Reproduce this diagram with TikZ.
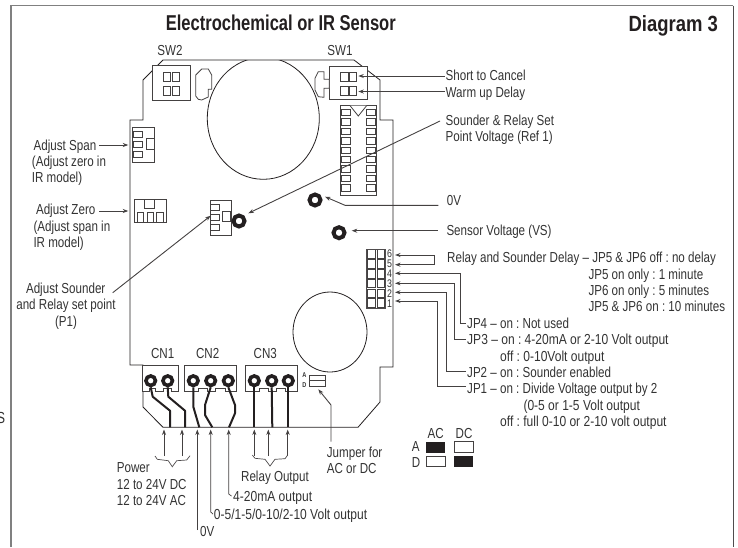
\documentclass[tikz,border=0pt]{standalone}
\usepackage{fontspec}
\setmainfont[FakeStretch=0.80]{Liberation Sans}
\newfontfamily\numfam[FakeStretch=0.83]{Liberation Sans}
\newfontfamily\titlefam[FakeStretch=0.77]{Liberation Sans}
\newfontfamily\diagfam[FakeStretch=0.84]{Liberation Sans}
\frenchspacing
\usetikzlibrary{arrows.meta}
\definecolor{ink}{HTML}{231F20}
\definecolor{txt}{HTML}{333333}
\definecolor{framegray}{HTML}{808080}
\tikzset{
  lbl/.style={inner sep=0pt,anchor=west,text=txt,font=\fontsize{14.5}{15}\selectfont,text height=10.2pt,text depth=0pt},
  nlbl/.style={lbl,font=\fontsize{14.5}{15}\numfam\selectfont},
  clbl/.style={lbl,anchor=center},
  board/.style={draw=ink,line width=0.8pt,fill=none},
  part/.style={draw=ink!85,line width=0.8pt,fill=white},
  ring/.style={draw=ink,line width=3.6pt,fill=white,circle,minimum size=9.5pt,inner sep=0pt},
  bigring/.style={ring,line width=4pt,minimum size=11pt},
  wire/.style={draw=ink,line width=2pt,line join=round},
  leader/.style={draw=ink!85,line width=0.9pt,line join=miter,-{Stealth[length=5.5pt,width=4pt]}},
  guide/.style={draw=ink!80,line width=0.7pt},
  frameline/.style={draw=framegray,line width=1.6pt},
}
\begin{document}
\begin{tikzpicture}[x=1pt,y=-1pt]
\useasboundingbox (0,0) rectangle (738,547);
% frame
\draw[frameline] (11,547) -- (11,5.5) -- (733,5.5);
\draw[draw=ink!80,line width=1pt] (733,5.5) -- (733,547);
\node[clbl,font=\fontsize{16}{16}\selectfont] (cutS) at (1,418) {S};
% titles
\node[clbl,font=\fontsize{21.5}{22}\titlefam\bfseries\selectfont,text=ink,text height=15.4pt] (title) at (280.8,22.5) {Electrochemical or IR Sensor};
\node[clbl,font=\fontsize{22}{22}\diagfam\bfseries\selectfont,text=ink,text height=15.8pt] (diagram) at (673.3,24) {Diagram 3};
% board
\begin{scope}
\clip (163,60) -- (354,60) -- (380,80) -- (380,200) -- (263,200) -- (200,200) -- (200,60) -- cycle;
\draw[board] (263.3,118.3) ellipse [x radius=56,y radius=61];
\end{scope}
\draw[board] (330,332) ellipse [x radius=37,y radius=40];
\draw[board] (163,60) -- (354,60) -- (380,80) -- (380,120) -- (393,120) -- (393,367) -- (380,367) -- (380,402) -- (358,427.3) -- (163,427.3) -- (143,407) -- (143,365) -- (130,365) -- (130,120) -- (143,120) -- (143,80) -- cycle;
% SW2
\draw[part] (152.7,65) rectangle (190.7,100.7);
\foreach \x in {163.3,172}{\foreach \y in {72.7,86.7}{\draw[part] (\x,\y) rectangle ++(7.4,9);}}
\draw[part] (195.7,75) -- (201.7,69) -- (208.3,69) -- (211.7,75) -- (211.7,89.3) -- (208.3,89.3) -- (208.3,97) -- (201.7,100) -- (198.3,99.3) -- (195.7,96) -- cycle;
% SW1
\draw[part] (329.3,66) rectangle (367.7,99.3);
\foreach \x in {340.7,349.3}{\foreach \y in {72.7,86.7}{\draw[part] (\x,\y) rectangle ++(7.4,9);}}
\draw[part] (329.3,79.3) -- (324,79.3) -- (324,71.7) -- (318.3,71.7) -- (315,78.3) -- (315,90) -- (318.3,96.7) -- (324,97.3) -- (324,88.3) -- (329.3,88.3) -- cycle;
% IC
\draw[part] (340.7,105.3) rectangle (376.7,195.3);
\draw[part] (350,105.6) -- (358.3,116) -- (366.7,105.6);
\foreach \i in {0,...,8}{
  \draw[part] (341.7,{109.3+\i*9.4}) rectangle ++(8.3,6.5);
  \draw[part] (366.7,{109.3+\i*9.4}) rectangle ++(9,6.5);
}
% Span pot
\draw[part] (132.7,127.3) rectangle (154,162.3);
\foreach \y in {131,141,151.3}{\draw[part] (133.3,\y) rectangle ++(9,6.4);}
\draw[part] (146,138.3) rectangle (154,149);
% Zero pot
\draw[part] (134.3,199.3) rectangle (166.7,222);
\draw[part] (144.3,199.3) rectangle (154,208);
\foreach \x in {137.3,147.3,156.7}{\draw[part] (\x,212.7) rectangle ++(6.3,9.3);}
% P1 pot
\draw[part] (210,200.7) rectangle (231,235.3);
\foreach \y in {204.3,214,224}{\draw[part] (210.7,\y) rectangle ++(8.6,6.5);}
\draw[part] (222.7,211.3) rectangle (230.7,221.3);
% rings
\node[bigring] (tpref) at (239,221) {};
\node[bigring] (tpzero) at (315,200) {};
\node[bigring] (tpvs) at (339,232.7) {};
% terminal blocks
\draw[part] (142.7,391.7) -- (142.7,365) -- (178.3,365) -- (178.3,391.7) -- (171,391.7) -- (171,388.8) -- (163,388.8) -- (163,391.7) -- (155,391.7) -- (155,388.8) -- (149,388.8) -- (149,391.7) -- cycle;
\draw[part] (184.3,391.7) -- (184.3,365) -- (236.7,365) -- (236.7,391.7) -- (225,391.7) -- (225,388.8) -- (215,388.8) -- (215,391.7) -- (207,391.7) -- (207,388.8) -- (198,388.8) -- (198,391.7) -- cycle;
\draw[part] (245.7,391.7) -- (245.7,365) -- (297.7,365) -- (297.7,391.7) -- (285,391.7) -- (285,388.8) -- (276,388.8) -- (276,391.7) -- (268,391.7) -- (268,388.8) -- (259,388.8) -- (259,391.7) -- cycle;
\foreach \n/\x in {a/150.7,b/167.7,c/193.3,d/210.7,e/228.3,f/254.3,g/271.7,h/288.3}{
  \node[ring] (t\n) at (\x,380.7) {};
}
% wires
\draw[wire] (ta.south) -- (152.7,396.7) -- (170,410.7) -- (170,427.3);
\draw[wire] (tb.south) -- (168.3,396.7) -- (185,410.7) -- (185,427.3);
\draw[wire] (tc.south) -- (193.3,406.7) -- (199.3,427.3);
\draw[wire] (td.south) -- (205,405) -- (205,415) -- (212.3,427.3);
\draw[wire] (te.south) -- (235,405) -- (235,413.3) -- (229,427.3);
\draw[wire] (tf.south) -- (254.3,427.3);
\draw[wire] (tg.south) -- (272.3,427.3);
\draw[wire] (th.south) -- (288.3,427.3);
% delay header
\foreach \i in {0,...,5}{
  \draw[part] (367.7,{249.6+\i*9.85}) rectangle ++(8,8.6);
  \draw[part] (377.3,{249.6+\i*9.85}) rectangle ++(7,8.6);
}
\draw[guide] (366.7,249.3) rectangle (385,308.6);
\foreach \n/\y in {6/254,5/264,4/274,3/284,2/294,1/304}{
  \node[clbl,font=\fontsize{11}{11}\selectfont,text height=7.8pt] (jp\n) at (389.5,\y) {\n};
}
% jumper
\node[clbl,font=\fontsize{7}{7}\bfseries\selectfont,text height=5pt] (jA) at (304.3,374.5) {A};
\node[clbl,font=\fontsize{7}{7}\bfseries\selectfont,text height=5pt] (jD) at (304.3,384.5) {D};
\draw[part] (309.3,375) rectangle (325,386);
\draw[part] (309.3,380.5) -- (325,380.5);
\coordinate (jumpTip) at (318.3,389.3);
% AC DC table
\node[clbl] (acl) at (435.7,433) {AC};
\node[clbl] (dcl) at (464,433) {DC};
\node[clbl] (al) at (415.7,446.7) {A};
\node[clbl] (dl) at (416,462) {D};
\fill[ink] (426,441.7) rectangle (445.3,452.7);
\draw[part] (454,441.7) rectangle (473.3,452.7);
\draw[part] (426,456) rectangle (445.3,466.7);
\fill[ink] (454,456) rectangle (473.3,466.7);
% top labels
\node[clbl] (sw2) at (170,50.7) {SW2};
\node[clbl] (sw1) at (340,50.7) {SW1};
\node[clbl] (cn1) at (162.7,353.3) {CN1};
\node[clbl] (cn2) at (207.7,353.3) {CN2};
\node[clbl] (cn3) at (265.3,353.3) {CN3};
% right labels
\node[lbl] (short) at (445.5,75.7) {Short to Cancel};
\node[lbl] (warm) at (445.5,92.3) {Warm up Delay};
\node[lbl] (snd1) at (445.5,120) {Sounder \& Relay Set};
\node[lbl] (snd2) at (445.5,136.7) {Point Voltage (Ref 1)};
\node[lbl] (zero) at (446.7,200.7) {0V};
\node[lbl] (vs) at (446.3,230) {Sensor Voltage (VS)};
\node[lbl] (delay) at (447,257.3) {Relay and Sounder Delay – JP5 \& JP6 off : no delay};
\node[lbl] (d2) at (588.3,274.3) {JP5 on only : 1 minute};
\node[lbl] (d3) at (588.3,290) {JP6 on only : 5 minutes};
\node[lbl] (d4) at (588.3,306) {JP5 \& JP6 on : 10 minutes};
\node[lbl] (j4) at (467,323) {JP4 – on : Not used};
\node[nlbl] (j3) at (467,339.5) {JP3 – on : 4-20mA or 2-10 Volt output};
\node[nlbl] (j3b) at (500,356) {off : 0-10Volt output};
\node[lbl] (j2) at (467,372) {JP2 – on : Sounder enabled};
\node[lbl] (j1) at (467,388) {JP1 – on : Divide Voltage output by 2};
\node[nlbl] (j1b) at (523.3,405) {(0-5 or 1-5 Volt output};
\node[nlbl] (j1c) at (500,421) {off : full 0-10 or 2-10 volt output};
% left labels
\node[clbl] (span) at (65,145) {Adjust Span};
\node[lbl] (span2) at (31.7,161.7) {(Adjust zero in};
\node[lbl] (span3) at (31.7,177) {IR model)};
\node[clbl] (zer) at (65.7,209) {Adjust Zero};
\node[lbl] (zer2) at (33.3,226.7) {(Adjust span in};
\node[lbl] (zer3) at (33.3,242) {IR model)};
\node[clbl] (adj1) at (65.7,288.3) {Adjust Sounder};
\node[clbl] (adj2) at (66,304.3) {and Relay set point};
\node[clbl] (adj3) at (66,321) {(P1)};
% bottom labels
\node[lbl] (pw1) at (116.7,467.7) {Power};
\node[lbl] (pw2) at (116.7,484.3) {12 to 24V DC};
\node[lbl] (pw3) at (116.7,500.3) {12 to 24V AC};
\node[clbl] (relay) at (275,476) {Relay Output};
\node[nlbl] (o420) at (233,496) {4-20mA output};
\node[nlbl] (ovolt) at (213.7,514) {0-5/1-5/0-10/2-10 Volt output};
\node[lbl] (o0v) at (200,531.7) {0V};
\node[lbl] (jmp1) at (326.7,452.7) {Jumper for};
\node[lbl] (jmp2) at (326.7,468.3) {AC or DC};
% coordinates
\coordinate (pSpan) at (128.3,145);
\coordinate (pZero) at (128.3,211);
\coordinate (pP1) at (210.7,215.7);
\coordinate (pShort) at (358.3,76);
\coordinate (pWarm) at (358.3,91.5);
% leaders
\draw[leader] (99,145) -- (pSpan);
\draw[leader] (99,211) -- (pZero);
\draw[leader] (112.7,292.7) -- (pP1);
\draw[leader] (444.5,76) -- (pShort);
\draw[leader] (444.5,91.5) -- (pWarm);
\draw[leader] (440,121) -- (248.3,213.3);
\draw[leader] (438.3,205.3) -- (345,205.3) -- (325,196.7);
\draw[leader] (437.7,230.7) -- (351.7,230.7);
\draw[leader] (434.3,255) -- (395,255);
\draw[leader] (434.3,255) -- (434.3,264.7) -- (395,264.7);
\draw[leader] (466,323.3) -- (460,323.3) -- (460,273.3) -- (395,273.3);
\draw[leader] (466,339.3) -- (454,339.3) -- (454,283.3) -- (395,283.3);
\draw[leader] (466,371.7) -- (446.7,371.7) -- (446.7,292.3) -- (395,292.3);
\draw[leader] (466,386.7) -- (437.3,386.7) -- (437.3,301) -- (395,301);
% bottom arrows
\foreach \x/\n in {164/pa,182/pb,254.3/ra,268.3/rb,287.7/rc}{
  \draw[leader,line width=0.7pt] (\x,456) -- (\x,429.5);
}
\draw[leader,line width=0.7pt] (197.3,530) -- (197.3,429.5);
\draw[leader,line width=0.7pt] (213,514) -- (210.7,512) -- (210.7,429.5);
\draw[leader,line width=0.7pt] (231.5,496) -- (228.7,494) -- (228.7,429.5);
\draw[guide] (155,456) -- (157.3,459.3) -- (168.3,460.7) -- (172.3,466.7) -- (176.7,460.7) -- (186.7,460) -- (190,455.7);
\draw[guide] (252.3,455) -- (255,458.3) -- (265,459.3) -- (270,466) -- (275,459.3) -- (285,458.7) -- (287.7,455);
\draw[leader] (331,441.7) -- (331,405) -- (jumpTip);
\end{tikzpicture}
\end{document}
